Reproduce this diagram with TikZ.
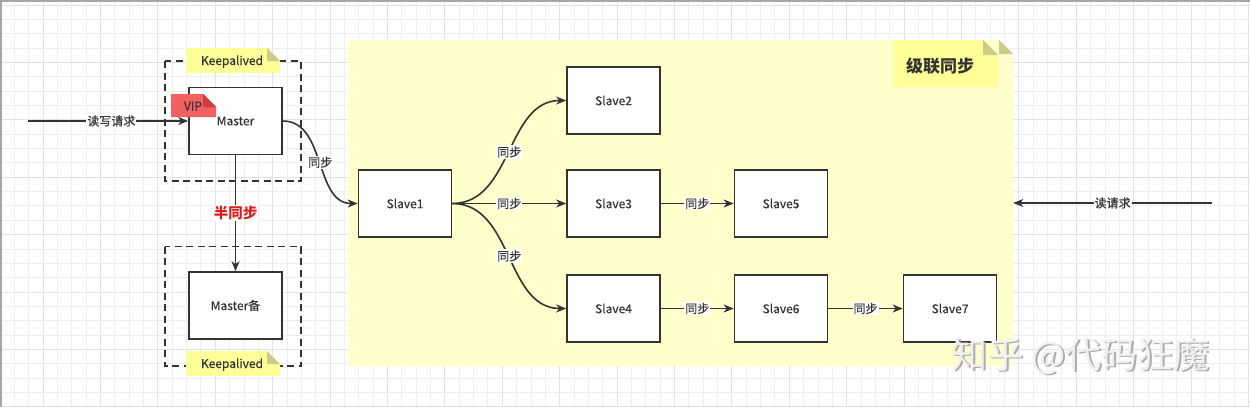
\documentclass[tikz,border=0pt]{standalone}
\usepackage{fontspec}
\setmainfont{Noto Sans CJK SC}
\newfontfamily\medfont{Noto Sans CJK SC}[FakeBold=0.35]
\usetikzlibrary{arrows.meta}
\definecolor{ink}{HTML}{333333}
\definecolor{areay}{HTML}{FFFFCC}
\definecolor{notey}{HTML}{FFFF99}
\definecolor{foldy}{HTML}{CCCC88}
\definecolor{vipred}{HTML}{F26060}
\definecolor{vipfold}{HTML}{C84040}
\definecolor{gridminor}{HTML}{EEEEEE}
\definecolor{gridmajor}{HTML}{E2E2E2}
\definecolor{semired}{HTML}{E01B1B}
\tikzset{
  txt/.style={text=ink, font=\medfont\fontsize{12}{14}\selectfont},
  box/.style={draw=ink, line width=1.6pt, fill=white, minimum width=93pt, minimum height=67pt, inner sep=0pt, txt},
  dashbox/.style={draw=ink, line width=1.5pt, dash pattern=on 7pt off 4.5pt},
  arr/.style={draw=ink, line width=1.6pt, -{Stealth[length=10pt,width=8pt,inset=3pt]}},
  lbl/.style={fill=white, inner sep=1pt, txt},
  notetext/.style={txt, inner sep=0pt, anchor=base},
}
\newcommand{\notebox}[7]{%
  \fill[#6] (#1,#2) -- (#3-#5,#2) -- (#3,#2+#5) -- (#3,#4) -- (#1,#4) -- cycle;
  \fill[#7] (#3-#5,#2) -- (#3-#5,#2+#5) -- (#3,#2+#5) -- cycle;
}
\begin{document}
\begin{tikzpicture}[x=1pt,y=-1pt]
\useasboundingbox (0,0) rectangle (1250,407);
\fill[white] (0,0) rectangle (1250,407);
% grid
\foreach \i in {1,...,87} {
  \pgfmathtruncatemacro{\m}{mod(\i,4)}
  \ifnum\m=3 \draw[gridmajor, line width=1pt] (\i*14.35,0) -- (\i*14.35,407);
  \else \draw[gridminor, line width=0.9pt] (\i*14.35,0) -- (\i*14.35,407); \fi
}
\foreach \i in {0,...,28} {
  \pgfmathtruncatemacro{\m}{mod(\i,4)}
  \ifnum\m=0 \draw[gridmajor, line width=1pt] (0,5+\i*14.35) -- (1250,5+\i*14.35);
  \else \draw[gridminor, line width=0.9pt] (0,5+\i*14.35) -- (1250,5+\i*14.35); \fi
}
\draw[gray!70, line width=1.5pt] (0.75,407) -- (0.75,0.75) -- (1250,0.75);

% cascade area
\notebox{348}{40}{1013}{366}{14}{areay}{foldy}
\node[minimum width=665pt, minimum height=326pt, inner sep=0pt] (cascade) at (680.5,203) {};
\notebox{893}{40}{998}{87}{15}{notey}{foldy}
\node[text=ink, font=\bfseries\fontsize{17}{20}\selectfont] (cascadetitle) at (940,66) {级联同步};

% dashed keepalived groups
\draw[dashbox] (165,61) rectangle (301,181);
\draw[dashbox] (165,246.5) rectangle (301,366);
\notebox{186}{48}{280}{73}{13}{notey}{foldy}
\node[notetext] (ka1) at (232,65) {Keepalived};
\notebox{186}{351}{280}{376}{13}{notey}{foldy}
\node[notetext] (ka2) at (232,368) {Keepalived};

% nodes
\node[box] (master) at (235.5,121) {};
\node[txt] (mastertxt) at (235.5,121) {Master};
\notebox{171}{94}{216}{117}{13}{vipred}{vipfold}
\node[notetext] (vip) at (193,110.5) {VIP};
\node[box] (masterb) at (235.5,305.5) {Master备};
\node[box] (s1) at (405,203.5) {Slave1};
\node[box] (s2) at (613.5,100.5) {Slave2};
\node[box] (s3) at (613.5,203.5) {Slave3};
\node[box] (s5) at (781,203.5) {Slave5};
\node[box] (s4) at (613.5,308.5) {Slave4};
\node[box] (s6) at (781,308.5) {Slave6};
\node[box] (s7) at (950,308.5) {Slave7};

% connectors
\coordinate (rw) at (28,121);
\draw[arr] (rw) -- node[lbl, pos=0.52] {读写请求} (master.west);
\draw[arr] (master.south) -- node[lbl, text=semired, font=\bfseries\fontsize{14.5}{16}\selectfont] {半同步} (masterb.north);
\draw[arr] (master.east) to[out=0, in=180] node[lbl] {同步} (s1.west);
\draw[arr] (s1.east) to[out=0, in=180] node[lbl] {同步} (s2.west);
\draw[arr] (s1.east) -- node[lbl] {同步} (s3.west);
\draw[arr] (s1.east) to[out=0, in=180] node[lbl] {同步} (s4.west);
\draw[arr] (s3.east) -- node[lbl] {同步} (s5.west);
\draw[arr] (s4.east) -- node[lbl] {同步} (s6.west);
\draw[arr] (s6.east) -- node[lbl] {同步} (s7.west);
\coordinate (rd) at (1212,203);
\draw[arr] (rd) -- node[lbl] {读请求} (rd -| cascade.east);

% watermark
\node[text=gray!65, font=\fontsize{36}{40}\selectfont, anchor=west] (wmshadow) at (949.5,357.5) {知乎 @代码狂魔};
\node[text=gray!12, font=\fontsize{36}{40}\selectfont, anchor=west] (wm) at (948,356) {知乎 @代码狂魔};
\end{tikzpicture}
\end{document}
